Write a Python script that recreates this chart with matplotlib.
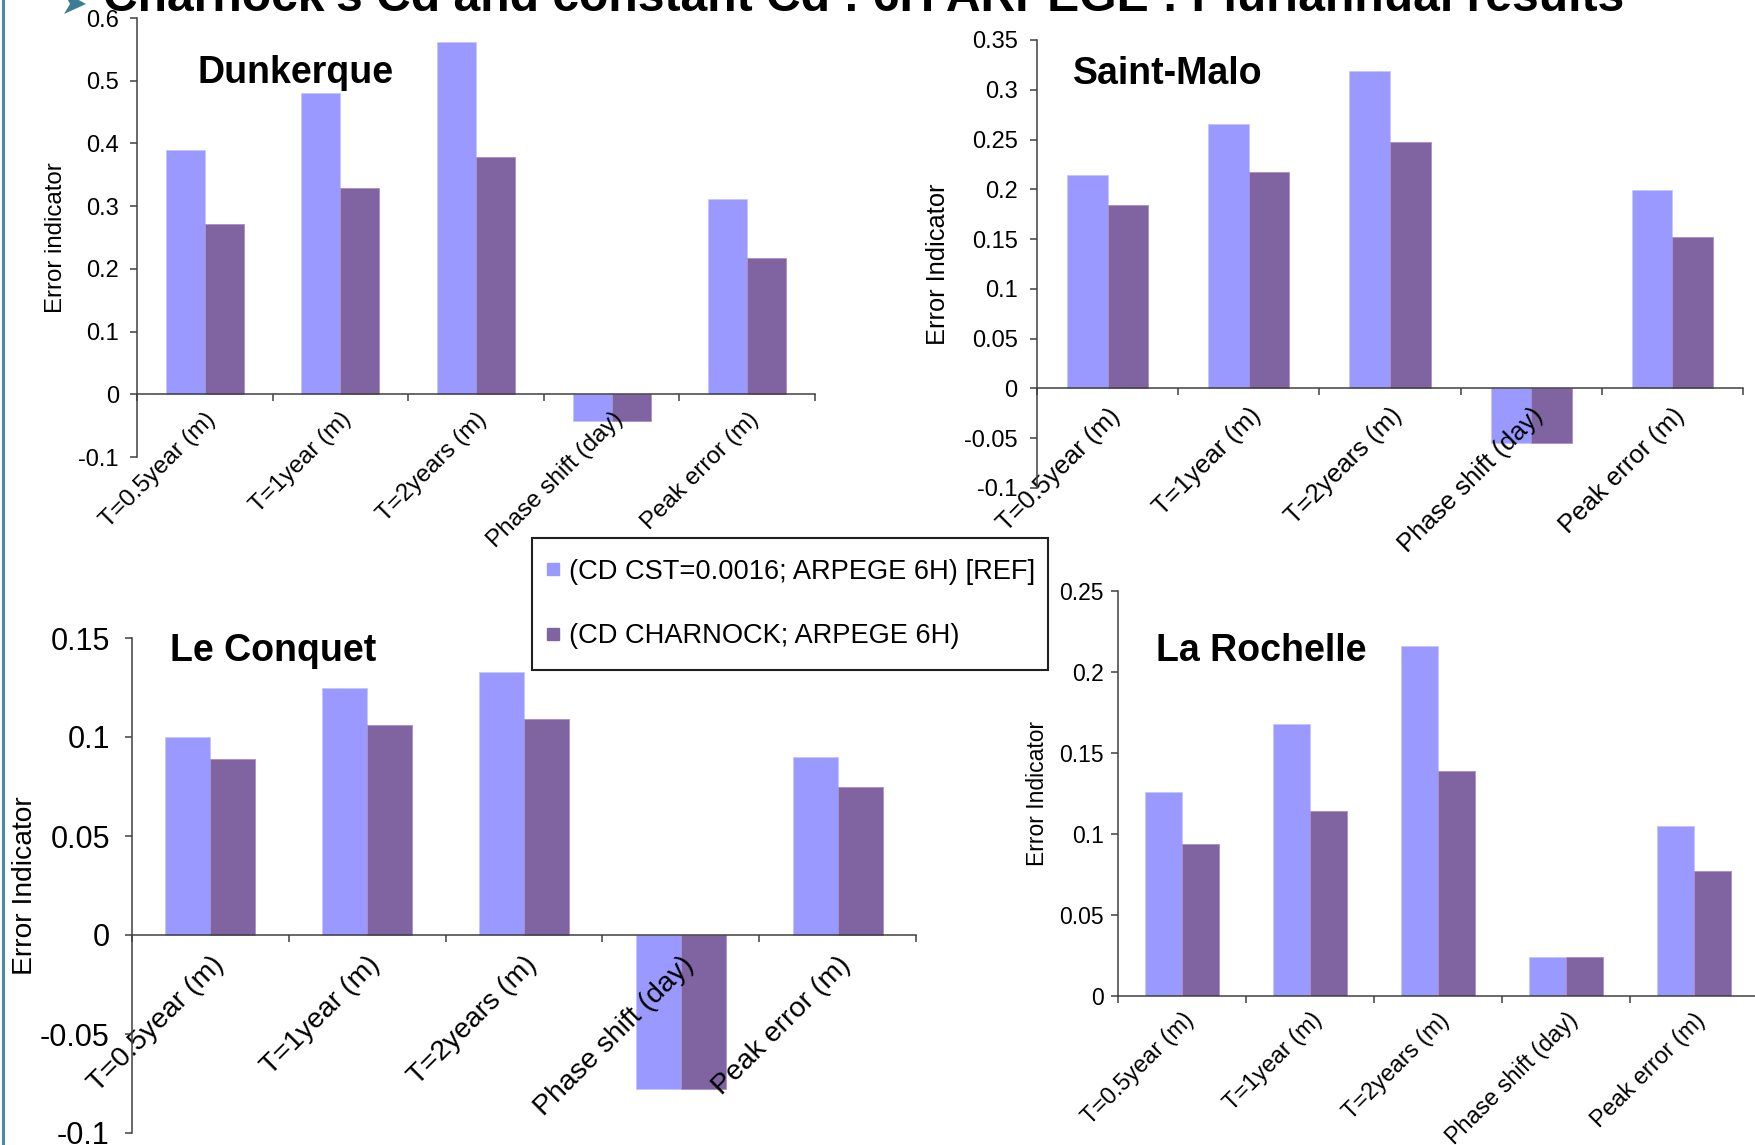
import numpy as np
import matplotlib
matplotlib.use("Agg")
import matplotlib.pyplot as plt
from matplotlib.lines import Line2D
from matplotlib.patches import Polygon, Rectangle

plt.rcParams['font.family'] = ['Liberation Sans', 'DejaVu Sans']

# indicators shown on every panel
categories = ["T=0.5year (m)", "T=1year (m)", "T=2years (m)", "Phase shift (day)", "Peak error (m)"]
series_names = ["(CD CST=0.0016; ARPEGE 6H) [REF]", "(CD CHARNOCK; ARPEGE 6H)"]

# error indicators per site: constant Cd (REF) and Charnock Cd
dunkerque_ref = [0.389, 0.480, 0.561, -0.043, 0.311]
dunkerque_char = [0.272, 0.329, 0.379, -0.043, 0.218]
stmalo_ref = [0.214, 0.266, 0.319, -0.055, 0.199]
stmalo_char = [0.184, 0.217, 0.248, -0.055, 0.152]
conquet_ref = [0.100, 0.125, 0.133, -0.078, 0.090]
conquet_char = [0.089, 0.106, 0.109, -0.078, 0.075]
rochelle_ref = [0.126, 0.168, 0.216, 0.024, 0.105]
rochelle_char = [0.094, 0.114, 0.139, 0.024, 0.077]

dunkerque_ticks = [-0.1, 0, 0.1, 0.2, 0.3, 0.4, 0.5, 0.6]
stmalo_ticks = [-0.1, -0.05, 0, 0.05, 0.1, 0.15, 0.2, 0.25, 0.3, 0.35]
conquet_ticks = [-0.1, -0.05, 0, 0.05, 0.1, 0.15]
rochelle_ticks = [0, 0.05, 0.1, 0.15, 0.2, 0.25]

REF_COL = "#9999FF"
CHAR_COL = "#8064A2"
AX_COL = "#404040"

W, H = 1756, 1145
fig = plt.figure(figsize=(W / 100, H / 100), dpi=100)


def px_rect(left, top, right, bottom):
    return [left / W, 1 - bottom / H, (right - left) / W, (bottom - top) / H]


def panel(rect, ref, char, ticks, ylabel, fs_tick, fs_cat, fs_lab, lab_x, cat_pad, ytick_pad):
    ax = fig.add_axes(rect)
    x = np.arange(len(categories)) + 0.5
    w = 0.2875
    ax.bar(x - w / 2, ref, w, color=REF_COL, edgecolor="#c4c4ff", linewidth=0.6, zorder=1)
    ax.bar(x + w / 2, char, w, color=CHAR_COL, edgecolor="#a890c4", linewidth=0.6, zorder=1)
    ax.set_axisbelow(False)
    ax.set_xlim(0, len(categories))
    ax.set_ylim(ticks[0], ticks[-1])
    for s in ["top", "right"]:
        ax.spines[s].set_visible(False)
    ax.spines["bottom"].set_position(("data", 0))
    for s in ["left", "bottom"]:
        ax.spines[s].set_color(AX_COL)
        ax.spines[s].set_linewidth(1.1)
        ax.spines[s].set_zorder(3)
    ax.set_yticks(ticks)
    ax.set_yticklabels(["{:g}".format(round(t, 3)) for t in ticks], fontsize=fs_tick)
    ax.set_xticks(np.arange(len(categories) + 1))
    ax.set_xticklabels([])
    ax.set_xticks(x, minor=True)
    ax.set_xticklabels(categories, minor=True, rotation=45, ha="right", va="top",
                       rotation_mode="anchor", fontsize=fs_cat)
    ax.tick_params(axis="x", which="major", direction="out", length=5, color=AX_COL, width=1.1)
    ax.tick_params(axis="x", which="minor", length=0, pad=cat_pad)
    ax.tick_params(axis="y", direction="out", length=5, color=AX_COL, width=1.1, pad=ytick_pad)
    ax.set_ylabel(ylabel, fontsize=fs_lab)
    ax.yaxis.set_label_coords(lab_x, 0.5)
    ax.yaxis.label.set_va("center")
    ax.patch.set_alpha(0)
    return ax


panel(px_rect(137, 18, 815, 457), dunkerque_ref, dunkerque_char, dunkerque_ticks,
      "Error indicator", 17, 17.5, 17.3, -0.119, 10, 8)
panel(px_rect(1037, 40, 1743, 488), stmalo_ref, stmalo_char, stmalo_ticks,
      "Error Indicator", 17, 18.5, 18.3, -0.140, 11, 9)
panel(px_rect(132, 638, 916, 1133), conquet_ref, conquet_char, conquet_ticks,
      "Error Indicator", 22, 20.5, 20.3, -0.136, 12, 11)
panel(px_rect(1118, 591, 1758, 996), rochelle_ref, rochelle_char, rochelle_ticks,
      "Error Indicator", 16.5, 16.8, 16.5, -0.125, 9, 5)

# site names
for name, xp, yp in [("Dunkerque", 198, 73), ("Saint-Malo", 1073, 74),
                     ("Le Conquet", 170, 651), ("La Rochelle", 1156, 651)]:
    fig.text(xp / W, 1 - yp / H, name, fontsize=27, fontweight="bold", ha="left", va="center")

# slide heading, cut by the top edge
fig.text(103 / W, 1 - 11 / H, "Charnock's Cd and constant Cd : 6H ARPEGE : Pluriannual results",
         fontsize=34.6, fontweight="bold", ha="left", va="baseline")
fig.patches.append(Polygon([(64 / W, 1 + 8 / H), (86 / W, 1 - 4 / H), (64 / W, 1 - 14 / H),
                            (70 / W, 1 - 4 / H)], closed=True, transform=fig.transFigure,
                           facecolor="#3b7d96", edgecolor="none"))
fig.lines.append(Line2D([2.5 / W, 2.5 / W], [0, 1], transform=fig.transFigure,
                        color="#4a8aa3", linewidth=2.2))

# shared legend: frame drawn separately so the padding can be set freely
fig.patches.append(Rectangle((532 / W, 1 - 670 / H), (1048 - 532) / W, (670 - 538) / H,
                             transform=fig.transFigure, facecolor="white",
                             edgecolor="#202020", linewidth=1.5, zorder=4))
handles = [Line2D([], [], linestyle="none", marker="s", markersize=8, color=REF_COL),
           Line2D([], [], linestyle="none", marker="s", markersize=8, color=CHAR_COL)]
leg = fig.legend(handles, series_names, loc="center left", bbox_to_anchor=(545 / W, 1 - 604 / H),
                 borderaxespad=0, borderpad=0, fontsize=19.6, frameon=False,
                 handlelength=0.6, handletextpad=0.3, labelspacing=1.43)
leg.set_zorder(5)

fig.savefig("out.png", dpi=100, facecolor="white")
